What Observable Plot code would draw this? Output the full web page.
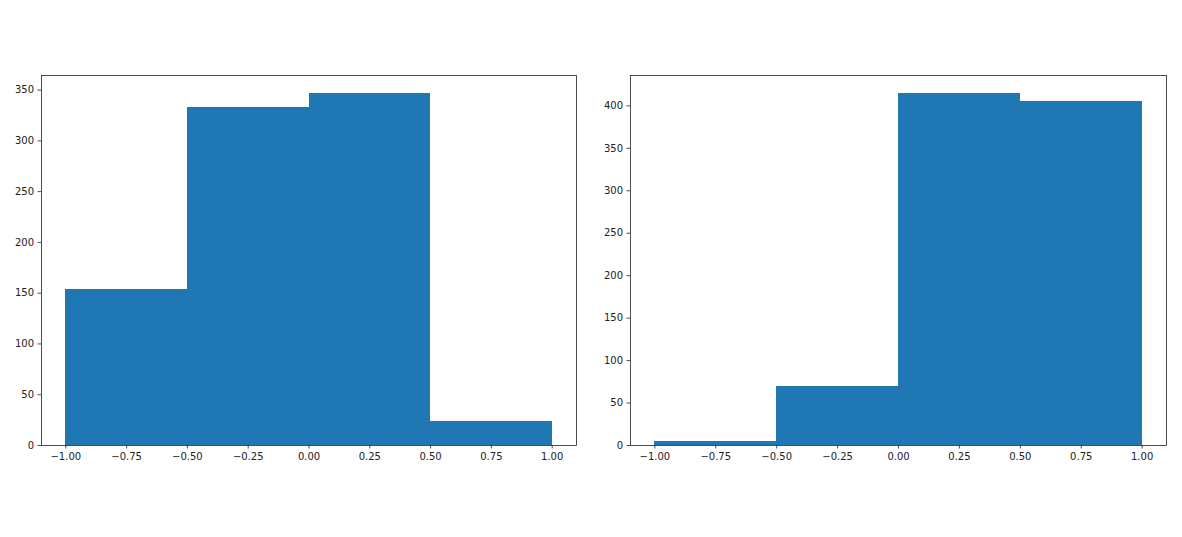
<!DOCTYPE html>
<html>
<head>
<meta charset="utf-8">
<script src="https://cdn.jsdelivr.net/npm/d3@7"></script>
<script src="https://cdn.jsdelivr.net/npm/@observablehq/plot@0.6"></script>
<style>
  html, body { margin: 0; padding: 0; background: #fff; }
  #wrap { position: relative; width: 1182px; height: 537px; overflow: hidden; }
  #left { position: absolute; left: 0; top: 0; }
  #right { position: absolute; left: 590px; top: 0; }
</style>
</head>
<body>
<div id="wrap"><div id="left"></div><div id="right"></div></div>
<script>
const binEdges = [-1, -0.5, 0, 0.5, 1];
const leftCounts = [154, 333, 347, 24];
const rightCounts = [5, 69, 415, 405];
const xTicks = [-1, -0.75, -0.5, -0.25, 0, 0.25, 0.5, 0.75, 1];
const leftYTicks = [0, 50, 100, 150, 200, 250, 300, 350];
const rightYTicks = [0, 50, 100, 150, 200, 250, 300, 350, 400];

const fmtX = d3.format(".2f");

function makeHist(counts, yTicks, width, marginLeft, marginRight) {
  const data = counts.map((c, i) => ({x1: binEdges[i], x2: binEdges[i + 1], y: c}));
  const ymax = d3.max(counts) * 1.05;
  return Plot.plot({
    width, height: 537,
    marginTop: 75, marginBottom: 92, marginLeft, marginRight,
    style: {fontFamily: "DejaVu Sans", fontSize: "10px", color: "#222", background: "#fff"},
    x: {domain: [-1.1, 1.1]},
    y: {domain: [0, ymax]},
    marks: [
      Plot.rectY(data, {x1: "x1", x2: "x2", y: "y", fill: "#1f77b4", inset: 0, shapeRendering: "crispEdges"}),
      Plot.axisX({ticks: xTicks, tickFormat: fmtX, tickSize: 3.5, tickPadding: 4, label: null, stroke: "#222", strokeWidth: 0.8}),
      Plot.axisY({ticks: yTicks, tickFormat: d3.format("d"), tickSize: 3.5, tickPadding: 4, label: null, stroke: "#222", strokeWidth: 0.8}),
      Plot.frame({stroke: "#222", strokeWidth: 0.8})
    ]
  });
}

document.getElementById("left").append(makeHist(leftCounts, leftYTicks, 590, 41, 14));
document.getElementById("right").append(makeHist(rightCounts, rightYTicks, 592, 40, 16));
</script>
</body>
</html>
